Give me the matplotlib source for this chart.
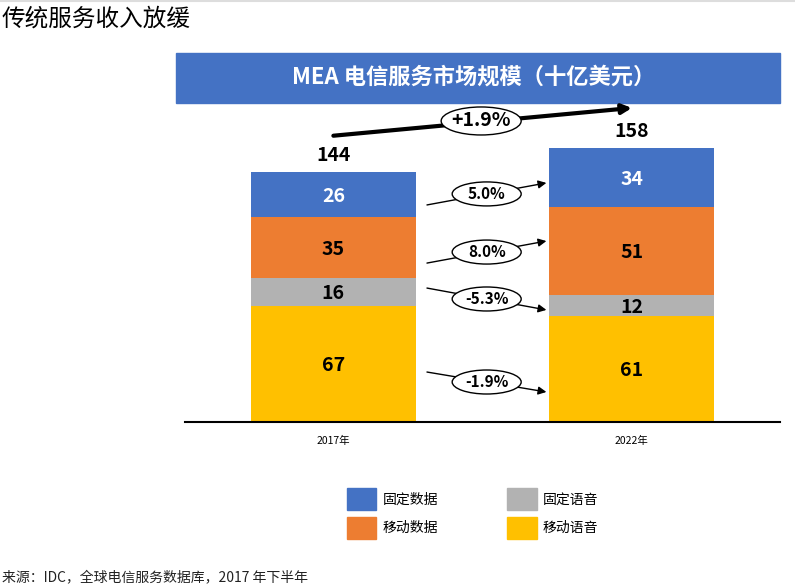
import matplotlib
matplotlib.use("Agg")
import matplotlib.pyplot as plt
from matplotlib.patches import Rectangle, Patch, Ellipse
from matplotlib.lines import Line2D

plt.rcParams["font.family"] = ["Noto Sans CJK SC", "DejaVu Sans"]

# data
years = ["2017年", "2022年"]
segments = ["移动语音", "固定语音", "移动数据", "固定数据"]  # bottom -> top
values = {
    "移动语音": [67, 61],
    "固定语音": [16, 12],
    "移动数据": [35, 51],
    "固定数据": [26, 34],
}
totals = [144, 158]
total_cagr = "+1.9%"
segment_cagr = {
    "移动语音": "-1.9%",
    "固定语音": "-5.3%",
    "移动数据": "8.0%",
    "固定数据": "5.0%",
}

colors = {
    "移动语音": "#FFC000",
    "固定语音": "#B2B2B2",
    "移动数据": "#ED7D31",
    "固定数据": "#4472C4",
}
label_colors = {
    "移动语音": "black",
    "固定语音": "black",
    "移动数据": "black",
    "固定数据": "white",
}
# arrow offsets from segment midpoints (start on 2017, end on 2022)
arrow_offsets = {
    "移动语音": (-4.7, -13.2),
    "固定语音": (2.2, -2.4),
    "移动数据": (-8.9, 5.8),
    "固定数据": (-5.9, -3.2),
}

W, H = 795, 588
PX_X = 298.5   # pixels per x unit
PX_Y = 1.735   # pixels per y unit

fig = plt.figure(figsize=(W / 100, H / 100), dpi=100)

# thin line at top
fig.add_artist(Line2D([0, 1], [1 - 1 / H, 1 - 1 / H], color="#DDDDDD", lw=1.5))

fig.text(2 / W, 1 - 19 / H, "传统服务收入放缓", fontsize=17, va="center", ha="left")

# banner
fig.add_artist(Rectangle((176 / W, 1 - 103 / H), 604 / W, 50 / H,
                         transform=fig.transFigure, color="#4472C4", zorder=0))
fig.text(474 / W, 1 - 77 / H, "MEA 电信服务市场规模（十亿美元）", fontsize=16,
         color="white", fontweight="bold", ha="center", va="center")

ax_h = 322
ax = fig.add_axes([185 / W, 1 - 422 / H, 595 / W, ax_h / H])
ax.patch.set_visible(False)
ax.set_xlim(-0.497, 1.496)
ax.set_ylim(0, ax_h / PX_Y)

x = [0, 1]
width = 0.553
bottoms = [0, 0]
mids = {}
for seg in segments:
    vals = values[seg]
    ax.bar(x, vals, width, bottom=bottoms, color=colors[seg], zorder=2)
    mids[seg] = [b + v / 2 for b, v in zip(bottoms, vals)]
    for xi, b, v in zip(x, bottoms, vals):
        ax.text(xi, b + v / 2 - 1, str(v), ha="center", va="center", fontsize=14,
                fontweight="bold", color=label_colors[seg], zorder=3)
    bottoms = [b + v for b, v in zip(bottoms, vals)]

for xi, t in zip(x, totals):
    ax.annotate(str(t), (xi, t), xytext=(0, 5), textcoords="offset points",
                ha="center", va="bottom", fontsize=14, fontweight="bold")


def oval_label(cx, cy, text, w_px, h_px, size):
    ax.add_patch(Ellipse((cx, cy), w_px / PX_X, h_px / PX_Y, fc="white",
                         ec="black", lw=1, zorder=4, clip_on=False))
    ax.text(cx, cy, text, ha="center", va="center", fontsize=size,
            fontweight="bold", zorder=5)


# overall growth arrow
x0, y0 = x[0], totals[0] + 21
x1, y1 = x[1], totals[1] + 23
ax.annotate("", xy=(x1, y1), xytext=(x0, y0), annotation_clip=False,
            arrowprops=dict(arrowstyle="-|>", lw=3, color="black",
                            mutation_scale=14, shrinkA=0, shrinkB=0))
oval_label((x0 + x1) / 2 - 0.005, (y0 + y1) / 2 + 0.5, total_cagr, 80, 28, 14)

# segment growth arrows
sx = x[0] + width / 2 + 0.037
ex = x[1] - width / 2 - 0.01
for seg in segments:
    o0, o1 = arrow_offsets[seg]
    sy = mids[seg][0] + o0
    ey = mids[seg][1] + o1
    ax.annotate("", xy=(ex, ey), xytext=(sx, sy),
                arrowprops=dict(arrowstyle="-|>", lw=1, color="black",
                                mutation_scale=12, shrinkA=0, shrinkB=0))
    oval_label((sx + ex) / 2, (sy + ey) / 2, segment_cagr[seg], 69, 24, 11)

for side in ["top", "left", "right"]:
    ax.spines[side].set_visible(False)
ax.spines["bottom"].set_linewidth(1.5)
ax.set_yticks([])
ax.set_xticks(x)
ax.set_xticklabels(years, fontsize=7.5)
ax.tick_params(axis="x", length=0, pad=10)

legend_order = ["固定数据", "移动数据", "固定语音", "移动语音"]
handles = [Patch(color=colors[s]) for s in legend_order]
fig.legend(handles, legend_order, ncol=2,
           loc="upper left", bbox_to_anchor=(347 / W, 1 - 488 / H), frameon=False,
           fontsize=10, handlelength=2.1, handleheight=2.05, handletextpad=0.45,
           labelspacing=0.5, columnspacing=5.0, borderpad=0, borderaxespad=0)

fig.text(2 / W, 1 - 577 / H, "来源：IDC，全球电信服务数据库，2017 年下半年",
         fontsize=10, color="#222222", ha="left", va="center")

fig.savefig("out.png", dpi=100)
